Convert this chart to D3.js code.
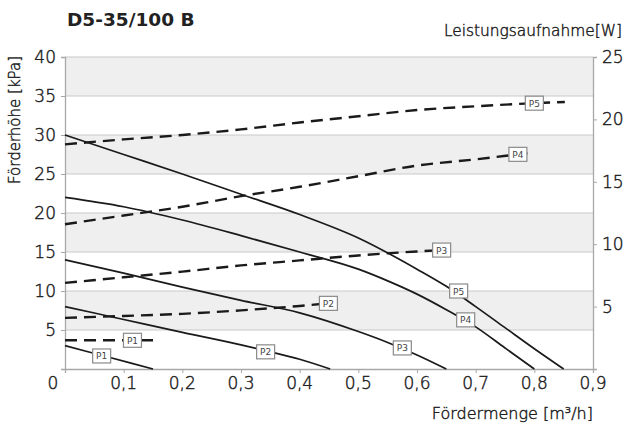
<!DOCTYPE html>
<html><head><meta charset="utf-8">
<script src="https://cdn.jsdelivr.net/npm/d3@7"></script>
<style>
body{margin:0;background:#fff;}
svg{display:block;font-family:"DejaVu Sans",sans-serif;}
.lt{font-weight:200;fill:#1e1e1e;stroke:#1e1e1e;stroke-width:0.45px;}
</style></head>
<body><svg id="c" width="627" height="423"></svg>
<script>
// ---- data ----
const xTicks = [0.1,0.2,0.3,0.4,0.5,0.6,0.7,0.8,0.9];
const xTickLabels = ["0,1","0,2","0,3","0,4","0,5","0,6","0,7","0,8","0,9"];
const yLeftTicks = [5,10,15,20,25,30,35,40];
const yRightTicks = [5,10,15,20,25];
const seriesNames = ["P1","P2","P3","P4","P5"];

// head curves [flow m3/h, head kPa]
const headP1 = [[0,3],[0.075,1.5],[0.15,0]];
const headP2 = [[0,8],[0.1,6.35],[0.2,4.7],[0.3,3.1],[0.35,2.2],[0.4,1.25],[0.452,0]];
const headP3 = [[0,14],[0.1,12.3],[0.2,10.5],[0.3,8.8],[0.4,7.2],[0.5,4.8],[0.55,3.4],[0.6,1.8],[0.65,0]];
const headP4 = [[0,22],[0.1,20.8],[0.2,19.1],[0.3,17.1],[0.4,15.0],[0.5,12.8],[0.55,11.3],[0.6,9.6],[0.65,7.6],[0.7,5.4],[0.75,2.7],[0.8,0]];
const headP5 = [[0,30],[0.1,27.5],[0.2,25.0],[0.3,22.4],[0.4,19.8],[0.5,16.8],[0.6,12.8],[0.65,10.6],[0.7,8.0],[0.75,5.3],[0.8,2.6],[0.85,0]];

// power curves [flow m3/h, power W]
const powerP1 = [[0,2.3],[0.15,2.3]];
const powerP2 = [[0,4.1],[0.1,4.25],[0.2,4.42],[0.3,4.7],[0.4,5.05],[0.449,5.26]];
const powerP3 = [[0,6.9],[0.1,7.35],[0.2,7.8],[0.3,8.3],[0.4,8.7],[0.5,9.1],[0.6,9.42],[0.642,9.53]];
const powerP4 = [[0,11.6],[0.1,12.3],[0.2,13.0],[0.3,13.85],[0.4,14.6],[0.5,15.45],[0.6,16.3],[0.7,16.8],[0.772,17.2],[0.79,17.3]];
const powerP5 = [[0,18.0],[0.1,18.4],[0.2,18.75],[0.3,19.2],[0.4,19.75],[0.5,20.25],[0.6,20.75],[0.7,21.05],[0.8,21.3],[0.852,21.4]];

// label anchor points
const headLabelPos = [[0.0625,1.67],[0.342,2.2],[0.575,2.7],[0.683,6.3],[0.671,10.0]];
const powerLabelPos = [[0.115,2.3],[0.449,5.26],[0.642,9.53],[0.772,17.2],[0.80,21.3]];

// ---- chart ----
const svg = d3.select("#c");
const x = d3.scaleLinear().domain([0,0.9]).range([65,593]);
const yL = d3.scaleLinear().domain([0,40]).range([369,57]);
const yR = d3.scaleLinear().domain([0,25]).range([369,57]);

// bands
const bandStarts = [5,15,25,35];
svg.append("g").selectAll("rect").data(bandStarts).join("rect")
  .attr("x", x(0)).attr("width", x(0.9)-x(0))
  .attr("y", d=>yL(d+5)).attr("height", d=>yL(d)-yL(d+5))
  .attr("fill","#efefef");

// gridlines
svg.append("g").selectAll("line").data(yLeftTicks).join("line")
  .attr("x1", x(0)).attr("x2", x(0.9))
  .attr("y1", d=>yL(d)).attr("y2", d=>yL(d))
  .attr("stroke","#cacaca").attr("stroke-width",1.2);

// axes
const axisCol = "#a8a8a8";
const gx = svg.append("g").attr("transform",`translate(0,${yL(0)})`)
  .call(d3.axisBottom(x).tickValues([0,...xTicks]).tickSize(4).tickFormat(""));
const gl = svg.append("g").attr("transform",`translate(${x(0)},0)`)
  .call(d3.axisLeft(yL).tickValues(yLeftTicks).tickSize(4).tickFormat(""));
const gr = svg.append("g").attr("transform",`translate(${x(0.9)},0)`)
  .call(d3.axisRight(yR).tickValues(yRightTicks).tickSize(4).tickFormat(""));
[gx,gl,gr].forEach(g=>{
  g.select(".domain").attr("stroke",axisCol).attr("stroke-width",1.3);
  g.selectAll(".tick line").attr("stroke",axisCol);
});

// tick labels
const tickFont = 17;
svg.append("g").selectAll("text").data(xTicks).join("text").attr("class","lt")
  .attr("x", d=>x(d)).attr("y", 389).attr("text-anchor","middle")
  .attr("font-size",tickFont)
  .text((d,i)=>xTickLabels[i]);
svg.append("text").attr("class","lt").attr("x",53).attr("y",389).attr("text-anchor","middle")
  .attr("font-size",tickFont).text("0");
svg.append("g").selectAll("text").data(yLeftTicks).join("text").attr("class","lt")
  .attr("x", 56).attr("y", d=>yL(d)+6).attr("text-anchor","end")
  .attr("font-size",tickFont)
  .text(d=>d);
svg.append("g").selectAll("text").data(yRightTicks).join("text").attr("class","lt")
  .attr("x", 602).attr("y", d=>yR(d)+6).attr("text-anchor","start")
  .attr("font-size",tickFont)
  .text(d=>d);

// titles
svg.append("text").attr("x",67).attr("y",26).attr("font-size",18.5)
  .attr("font-weight","bold").attr("fill","#222").text("D5-35/100 B");
svg.append("text").attr("class","lt").attr("x",622).attr("y",36).attr("text-anchor","end")
  .attr("font-size",15.4).text("Leistungsaufnahme[W]");
svg.append("text").attr("class","lt").attr("transform","translate(20,120) rotate(-90)").attr("text-anchor","middle")
  .attr("font-size",15).text("Förderhöhe [kPa]");
svg.append("text").attr("class","lt").attr("x",593).attr("y",419).attr("text-anchor","end")
  .attr("font-size",16)
  .text("Fördermenge [m³/h]");

// curves
const headSeries = [headP1,headP2,headP3,headP4,headP5];
const powerSeries = [powerP1,powerP2,powerP3,powerP4,powerP5];
const lineH = d3.line().x(d=>x(d[0])).y(d=>yL(d[1])).curve(d3.curveMonotoneX);
const lineP = d3.line().x(d=>x(d[0])).y(d=>yR(d[1])).curve(d3.curveMonotoneX);

svg.append("g").selectAll("path").data(powerSeries).join("path")
  .attr("d", lineP).attr("fill","none").attr("stroke","#1a1a1a")
  .attr("stroke-width",2.4).attr("stroke-dasharray","12,7");
svg.append("g").selectAll("path").data(headSeries).join("path")
  .attr("d", lineH).attr("fill","none").attr("stroke","#1a1a1a").attr("stroke-width",1.7);

// labels
function drawLabels(pos, yScale){
  const g = svg.append("g").selectAll("g").data(pos).join("g")
    .attr("transform", d=>`translate(${x(d[0])},${yScale(d[1])})`);
  g.append("rect").attr("x",-9).attr("y",-7).attr("width",18).attr("height",14)
    .attr("fill","#fff").attr("stroke","#8a8a8a").attr("stroke-width",1.2);
  g.append("text").attr("y",3.5).attr("text-anchor","middle").attr("font-size",9)
    .attr("fill","#444").text((d,i)=>seriesNames[i]);
}
drawLabels(headLabelPos, yL);
drawLabels(powerLabelPos, yR);
</script></body></html>
